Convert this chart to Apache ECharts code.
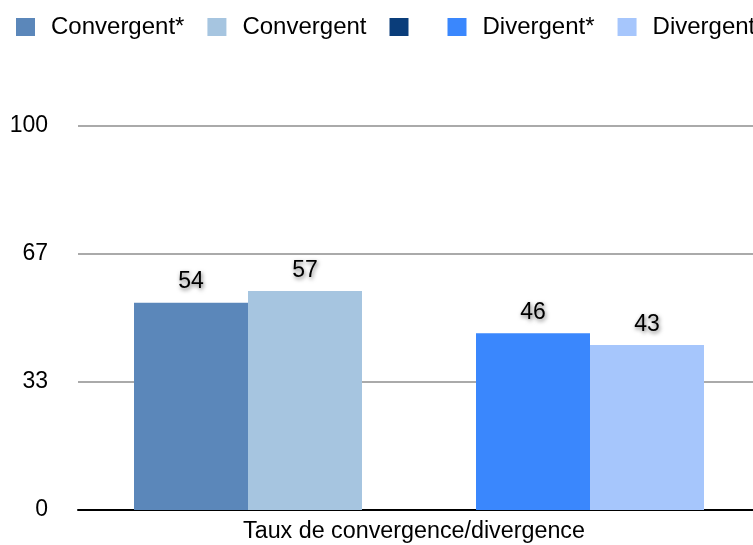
<!DOCTYPE html>
<html>
<head>
<meta charset="utf-8">
<style>
  html, body { margin: 0; padding: 0; background: #fff; }
  #chart { width: 753px; height: 545px; }
</style>
<script src="https://cdn.jsdelivr.net/npm/echarts@6/dist/echarts.min.js"></script>
</head>
<body>
<div id="chart"></div>
<script>
const categories = ['Taux de convergence/divergence'];
const seriesNames = ['Convergent*', 'Convergent', '\u200b', 'Divergent*', 'Divergent'];
const convergentStar = [54];
const convergent = [57];
const blankSeries = ['-'];
const divergentStar = [46];
const divergent = [43];
const seriesColors = ['#5b87ba', '#a6c5e0', '#0a3d7a', '#3a87fd', '#a6c6fc'];
const seriesValues = [convergentStar, convergent, blankSeries, divergentStar, divergent];

const FONT = "'Liberation Sans', Arial, Helvetica, sans-serif";
const chart = echarts.init(document.getElementById('chart'), null, { renderer: 'canvas' });

const option = {
  animation: false,
  backgroundColor: '#ffffff',
  legend: {
    left: 16,
    top: 15,
    padding: 0,
    width: 2000,
    itemWidth: 19,
    itemHeight: 18,
    itemGap: 23,
    icon: 'rect',
    textStyle: { fontFamily: FONT, fontSize: 24, color: '#000', padding: [0, 0, 0, 11] },
    data: seriesNames
  },
  grid: { left: 78, right: -7, top: 126, bottom: 35, outerBoundsMode: 'none', containLabel: false },
  xAxis: {
    type: 'category',
    data: categories,
    axisTick: { show: false },
    axisLine: { show: true, lineStyle: { color: '#000', width: 2 } },
    axisLabel: { fontFamily: FONT, fontSize: 23.3, color: '#000', margin: 10, padding: [0, 10, 0, 0] },
    splitLine: { show: false }
  },
  yAxis: {
    type: 'value',
    min: 0,
    max: 100,
    interval: 100 / 3,
    axisLine: { show: false },
    axisTick: { show: false },
    axisLabel: {
      fontFamily: FONT, fontSize: 23, color: '#000', margin: 30,
      formatter: v => String(Math.round(v))
    },
    splitLine: { show: true, lineStyle: { color: '#aaaaaa', width: 2 } }
  },
  series: seriesNames.map((name, i) => ({
    name: name,
    type: 'bar',
    data: seriesValues[i],
    barWidth: 114,
    barGap: '0%',
    itemStyle: { color: seriesColors[i] },
    label: {
      show: true,
      position: 'top',
      distance: 9,
      fontFamily: FONT,
      fontSize: 23,
      color: '#000',
      textShadowColor: 'rgba(0,0,0,0.55)',
      textShadowBlur: 4,
      textShadowOffsetX: 1,
      textShadowOffsetY: 2
    }
  }))
};
chart.setOption(option);
</script>
</body>
</html>
